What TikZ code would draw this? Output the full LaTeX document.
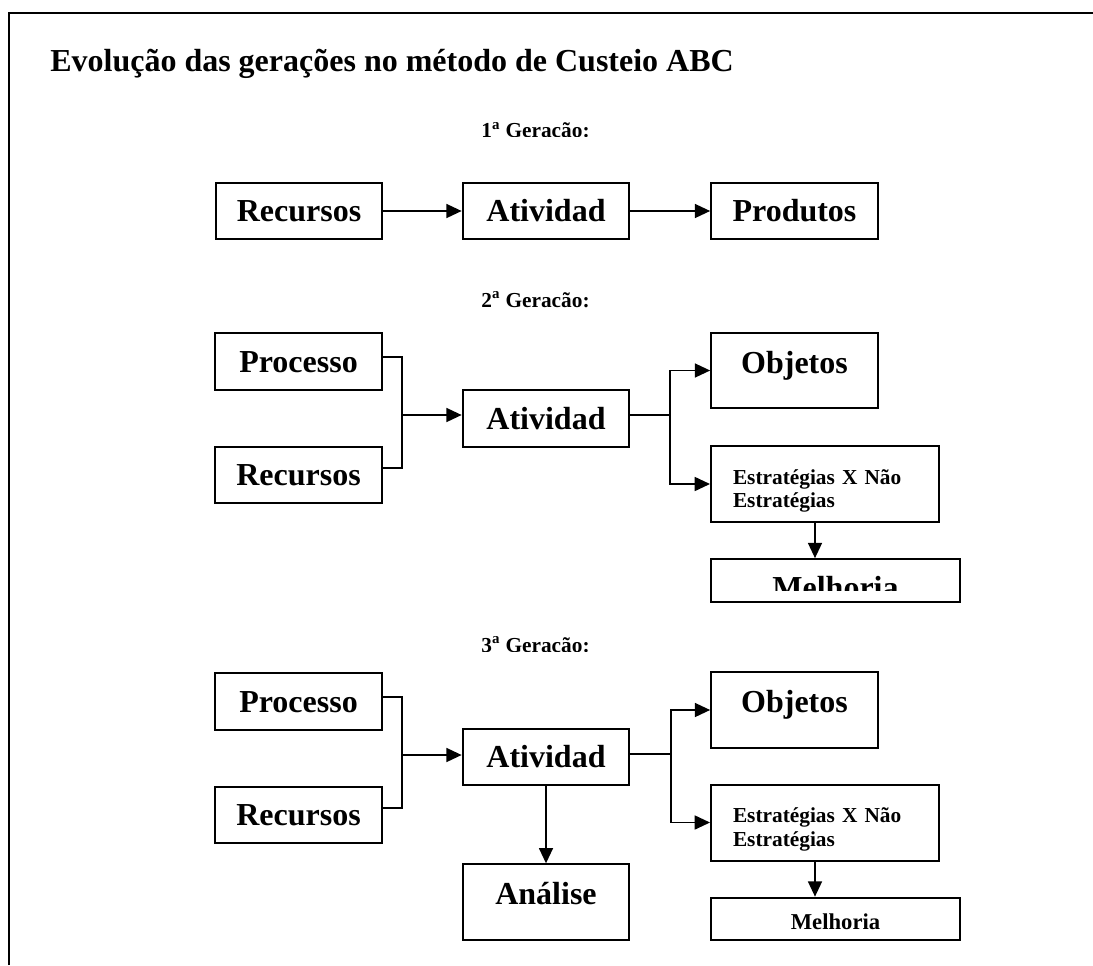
\documentclass[tikz,border=0pt]{standalone}
\usepackage{fontspec}
\setmainfont{Liberation Serif}
\usepackage{tikz}
\usetikzlibrary{positioning}
\usetikzlibrary{arrows.meta}

\tikzset{
  box/.style={draw, line width=1.5pt, inner sep=0pt, minimum width=125pt, minimum height=42.5pt,
    font=\fontsize{24}{26}\selectfont\bfseries, text height=16.3pt, text depth=0pt},
  tallbox/.style={box, minimum height=56.5pt, text depth=12.5pt},
  textbox/.style={draw, line width=1.5pt, inner ysep=0pt, inner xsep=16.5pt, minimum width=171pt,
    minimum height=57pt, text width=138pt, align=left, execute at begin node={\rule{0pt}{21.5pt}},
    font=\fontsize{16}{17.5}\selectfont\bfseries},
  lowbox/.style={draw, line width=1.5pt, inner sep=0pt, minimum width=187pt, minimum height=32pt,
    font=\fontsize{17}{19}\selectfont\bfseries, text height=15pt, text depth=0pt},
  genlabel/.style={anchor=base, inner sep=0pt, font=\fontsize{16}{18}\selectfont\bfseries},
  link/.style={line width=1.3pt},
  arr/.style={link, -{Triangle[length=11.5pt,width=10.5pt]}},
}

\begin{document}
\begin{tikzpicture}[x=0.75pt, y=-0.75pt]
    \useasboundingbox (0,0) rectangle (1093,965);
    \draw[line width=1.4pt] (9,965) -- (9,13) -- (1093,13);
    \node (title) at (50,71) [anchor=base west, inner sep=0pt, font=\fontsize{24}{26}\selectfont\bfseries] {Evolução das gerações no método de Custeio ABC};

    % 1a geracao
    \begin{scope}
        \clip (400,100) rectangle (700,136.5);
        \node (genA) at (535.5,137.5) [genlabel] {1\textsuperscript{a} Geracão:};
    \end{scope}
    \node (recA) at (299,211) [box] {Recursos};
    \node (ativA) at (546,211) [box] {Atividad};
    \node (prodA) at (794.5,211) [box] {Produtos};
    \draw[arr] (recA) -- (ativA);
    \draw[arr] (ativA) -- (prodA);

    % 2a geracao
    \node (genB) at (535.5,307) [genlabel] {2\textsuperscript{a} Geracão:};
    \node (procB) at (298.5,361.5) [box] {Processo};
    \node (recB) at (298.5,475) [box] {Recursos};
    \node (ativB) at (546,418.5) [box] {Atividad};
    \node (objB) at (794.5,370.5) [tallbox] {Objetos};
    \node (estB) at (825,484) [textbox] {Estratégias X Não\\Estratégias};
    \node (melB) at (835.5,580.5) [lowbox] {};
    \begin{scope}
        \clip (711,559) rectangle (960,590);
        \node (melBtext) at (835.5,598) [anchor=base, inner sep=0pt, font=\fontsize{24}{26}\selectfont\bfseries] {Melhoria};
    \end{scope}
    \coordinate (jB) at (402,415);
    \coordinate (kB) at (670,415);
    \draw[link] ([yshift=3.4pt]procB.east) -| (jB) |- ([yshift=5.2pt]recB.east);
    \draw[arr] (jB) -- (jB -| ativB.west);
    \draw[link] (kB -| ativB.east) -- (kB);
    \draw[arr] (kB) |- (objB);
    \draw[arr] (kB) |- (estB);
    \draw[arr] ([xshift=-7.5pt]estB.south) -- ([xshift=-7.5pt]estB.south |- melB.north);

    % 3a geracao
    \begin{scope}
        \clip (400,620) rectangle (700,651);
        \node (genC) at (535.5,652) [genlabel] {3\textsuperscript{a} Geracão:};
    \end{scope}
    \node (procC) at (298.5,701.5) [box] {Processo};
    \node (recC) at (298.5,815) [box] {Recursos};
    \node (ativC) at (546,757) [box] {Atividad};
    \node (analC) at (546,902) [tallbox] {Análise};
    \node (objC) at (794.5,710) [tallbox] {Objetos};
    \node (estC) at (825,822.5) [textbox] {Estratégias X Não\\Estratégias};
    \node (melC) at (835.5,919) [lowbox] {Melhoria};
    \coordinate (jC) at (402,755);
    \coordinate (kC) at (671,754);
    \draw[link] ([yshift=3.4pt]procC.east) -| (jC) |- ([yshift=5.2pt]recC.east);
    \draw[arr] (jC) -- (jC -| ativC.west);
    \draw[link] (kC -| ativC.east) -- (kC);
    \draw[arr] (kC) |- (objC);
    \draw[arr] (kC) |- (estC);
    \draw[arr] (ativC) -- (analC);
    \draw[arr] ([xshift=-7.5pt]estC.south) -- ([xshift=-7.5pt]estC.south |- melC.north);
\end{tikzpicture}
\end{document}
